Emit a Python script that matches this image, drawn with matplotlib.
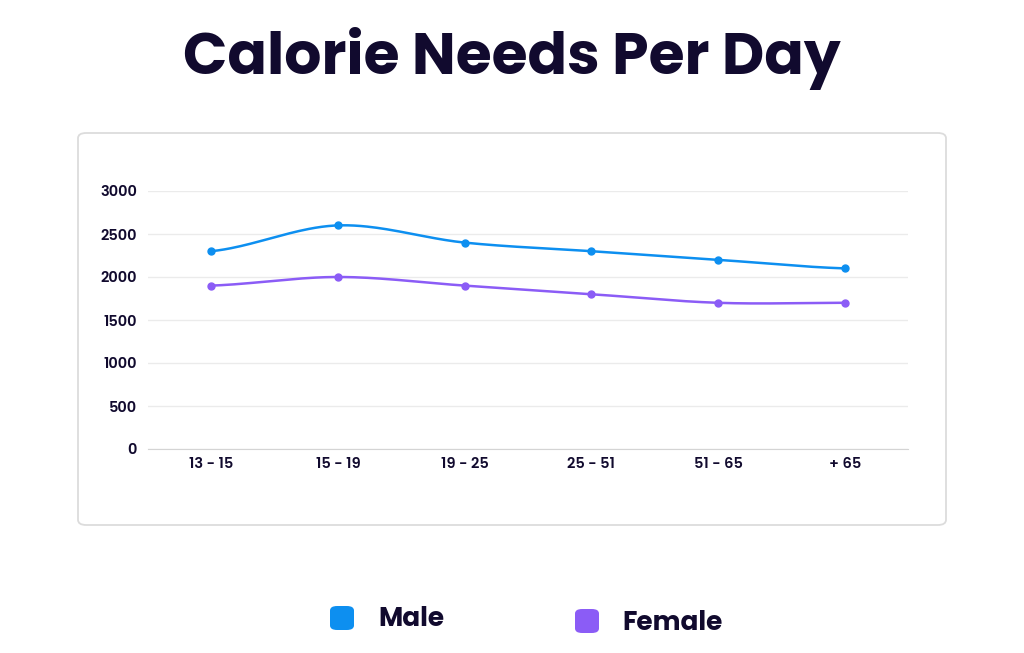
import numpy as np
import matplotlib.pyplot as plt
from matplotlib.patches import FancyBboxPatch

age_groups = ['13 - 15', '15 - 19', '19 - 25', '25 - 51', '51 - 65', '+ 65']
male = [2300, 2600, 2400, 2300, 2200, 2100]
female = [1900, 2000, 1900, 1800, 1700, 1700]
y_ticks = [0, 500, 1000, 1500, 2000, 2500, 3000]

male_color = '#0d8ff0'
female_color = '#8b5cf6'
text_color = '#110a2e'

plt.rcParams['font.family'] = ['Poppins', 'Lato', 'DejaVu Sans']


def catmull_rom(xs, ys, n=40):
    # smooth curve through the points, like the web chart does
    xs = np.asarray(xs, float)
    ys = np.asarray(ys, float)
    px = np.concatenate([[2 * xs[0] - xs[1]], xs, [2 * xs[-1] - xs[-2]]])
    py = np.concatenate([[ys[0]], ys, [ys[-1]]])
    out_x, out_y = [], []
    for i in range(1, len(px) - 2):
        t = np.linspace(0, 1, n)
        for arr, out in ((px, out_x), (py, out_y)):
            p0, p1, p2, p3 = arr[i - 1], arr[i], arr[i + 1], arr[i + 2]
            out.extend(0.5 * ((2 * p1) + (-p0 + p2) * t
                              + (2 * p0 - 5 * p1 + 4 * p2 - p3) * t ** 2
                              + (-p0 + 3 * p1 - 3 * p2 + p3) * t ** 3))
    return np.array(out_x), np.array(out_y)


fig = plt.figure(figsize=(10.24, 6.53), dpi=100)
W, H = 1024, 653

# card behind the chart
card = FancyBboxPatch((78 / W, 1 - 525 / H), (946 - 78) / W, (525 - 133) / H,
                      boxstyle='round,pad=0,rounding_size=0.008',
                      transform=fig.transFigure, facecolor='white',
                      edgecolor='#dcdcdc', linewidth=1.3, zorder=-1)
fig.patches.append(card)

fig.text(0.5, 1 - 59 / H, 'Calorie Needs Per Day', ha='center', va='center',
         fontsize=42, fontweight='bold', color=text_color)

ax = fig.add_axes([148 / W, 1 - 449 / H, (908 - 148) / W, (449 - 191) / H])
ax.patch.set_alpha(0)
x = np.arange(len(age_groups))

for vals, col in ((male, male_color), (female, female_color)):
    sx, sy = catmull_rom(x, vals)
    ax.plot(sx, sy, color=col, lw=1.8, zorder=3)
    ax.plot(x, vals, 'o', color=col, ms=5, zorder=4)

ax.set_xlim(-0.5, len(age_groups) - 0.5)
ax.set_ylim(0, 3000)
ax.set_yticks(y_ticks)
ax.set_xticks(x)
ax.set_xticklabels(age_groups)
ax.grid(axis='y', color='#ebebeb', lw=1)
ax.set_axisbelow(True)
for s in ('top', 'right', 'left'):
    ax.spines[s].set_visible(False)
ax.spines['bottom'].set_color('#d4d4d4')
ax.tick_params(length=0, labelsize=10.5, labelcolor=text_color, pad=8)
ax.tick_params(axis='x', pad=6)
for lab in ax.get_xticklabels() + ax.get_yticklabels():
    lab.set_fontweight('semibold')

# legend below the card
for cx, cy, tx, label, col in ((342, 618, 378, 'Male', male_color),
                               (587, 621, 622, 'Female', female_color)):
    sq = FancyBboxPatch(((cx - 12) / W, 1 - (cy + 12) / H), 24 / W, 24 / H,
                        boxstyle='round,pad=0,rounding_size=0.007',
                        transform=fig.transFigure, facecolor=col, edgecolor='none')
    fig.patches.append(sq)
    fig.text(tx / W, 1 - (cy + 2) / H, label, ha='left', va='center',
             fontsize=19, fontweight='bold', color=text_color)

fig.savefig('out.png', dpi=100, facecolor='white')
